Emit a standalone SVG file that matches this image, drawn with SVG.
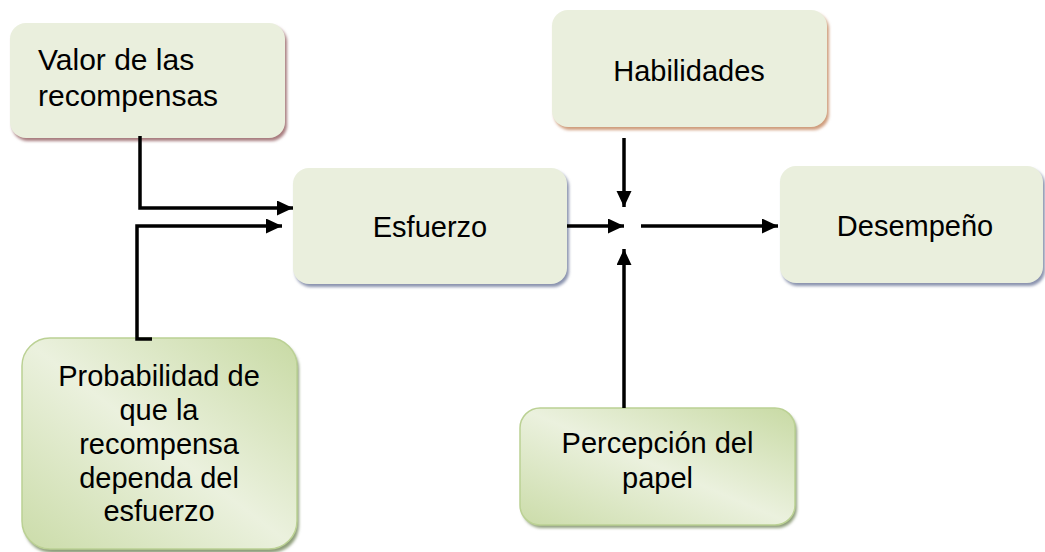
<svg xmlns="http://www.w3.org/2000/svg" width="1045" height="552" viewBox="0 0 1045 552">
<style>
  text { font-family: "Liberation Sans", Arial, sans-serif; fill: #000; }
  .t { font-size: 29px; text-anchor: middle; }
  .tl { font-size: 30px; }
  .box { fill: #EAEFDD; }
  .gbox { fill: url(#green); stroke: #BBD194; stroke-width: 1.5; }
  .conn { fill: none; stroke: #000; stroke-width: 3.5; }
</style>
<defs>
  <filter id="blur" x="-10%" y="-10%" width="120%" height="120%">
    <feGaussianBlur stdDeviation="1.5"/>
  </filter>
  <linearGradient id="green" x1="0" y1="1" x2="1" y2="0">
    <stop offset="0" stop-color="#CBDCA9"/>
    <stop offset="0.5" stop-color="#EBF1DE"/>
    <stop offset="1" stop-color="#C8DAA4"/>
  </linearGradient>
  <marker id="arr" markerUnits="userSpaceOnUse" markerWidth="17" markerHeight="16" refX="16" refY="7.5" orient="auto">
    <path d="M0,0 L16,7.5 L0,15 z" fill="#000"/>
  </marker>
</defs>

<g id="valor">
  <rect x="12" y="26" width="275" height="115" rx="16" fill="#A77B7E" filter="url(#blur)"/>
  <rect class="box" x="10" y="23" width="275" height="115" rx="16"/>
  <text class="tl" x="38" y="70">Valor de las</text>
  <text class="tl" x="38" y="106">recompensas</text>
</g>

<g id="esfuerzo">
  <rect x="295" y="171" width="274" height="116" rx="16" fill="#8A93AE" filter="url(#blur)"/>
  <rect class="box" x="293" y="168" width="274" height="116" rx="16"/>
  <text class="t" x="430" y="237">Esfuerzo</text>
</g>

<g id="habilidades">
  <rect x="554" y="13" width="275" height="117" rx="16" fill="#CF9C7C" filter="url(#blur)"/>
  <rect class="box" x="552" y="10" width="275" height="117" rx="16"/>
  <text class="t" x="689" y="81">Habilidades</text>
</g>

<g id="desempeno">
  <rect x="782" y="169" width="263" height="117" rx="16" fill="#8A93AE" filter="url(#blur)"/>
  <rect class="box" x="780" y="166" width="263" height="117" rx="16"/>
  <text class="t" x="915" y="236">Desempeño</text>
</g>

<g id="probabilidad">
  <rect x="24" y="341" width="275" height="212" rx="28" fill="#8E9E7A" filter="url(#blur)"/>
  <rect class="gbox" x="22" y="338" width="275" height="211" rx="28"/>
  <text class="t" x="159" y="386">Probabilidad de</text>
  <text class="t" x="159" y="420">que la</text>
  <text class="t" x="159" y="454">recompensa</text>
  <text class="t" x="159" y="488">dependa del</text>
  <text class="t" x="159" y="521">esfuerzo</text>
</g>

<g id="percepcion">
  <rect x="522" y="411" width="275" height="117" rx="20" fill="#8E9E7A" filter="url(#blur)"/>
  <rect class="gbox" x="520" y="408" width="275" height="117" rx="20"/>
  <text class="t" x="657.5" y="453">Percepción del</text>
  <text class="t" x="657.5" y="488">papel</text>
</g>

<g id="connectors">
  <path class="conn" d="M140,136 V208 H293" marker-end="url(#arr)"/>
  <path class="conn" d="M152,339 H137 V226 H282" marker-end="url(#arr)"/>
  <path class="conn" d="M567,226 H624" marker-end="url(#arr)"/>
  <path class="conn" d="M641,226 H778" marker-end="url(#arr)"/>
  <path class="conn" d="M624,138 V207" marker-end="url(#arr)"/>
  <path class="conn" d="M624,408 V249" marker-end="url(#arr)"/>
</g>
</svg>
